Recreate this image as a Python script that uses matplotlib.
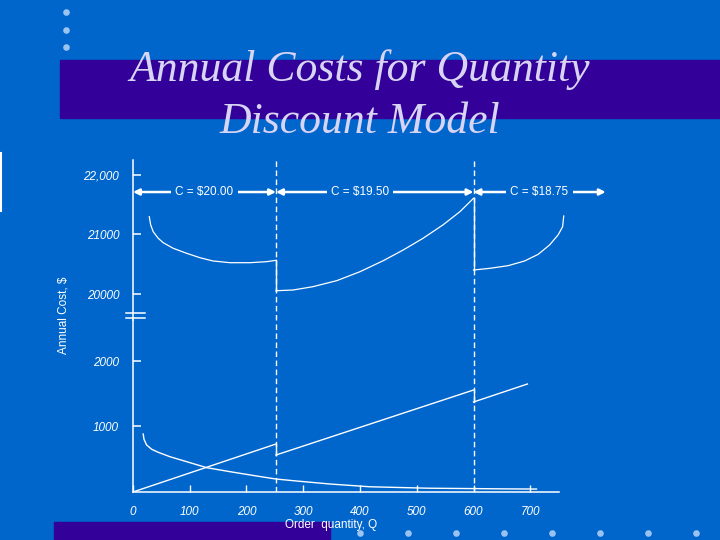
import numpy as np
import matplotlib.pyplot as plt
from matplotlib.patches import Rectangle

# colours of the slide
BG = "#0066cc"
BANNER = "#330099"
TITLE_COL = "#d8d4f4"
BULLET = "#9cc4f0"

# data
breaks = [252, 600]
x_ticks = [0, 100, 200, 300, 400, 500, 600, 700]
upper_ticks = [20000, 21000, 22000]
upper_labels = ["20000", "21000", "22,000"]
lower_ticks = [1000, 2000]
lower_labels = ["1000", "2000"]

# total cost curves (one per price)
q_c20 = [28.7, 31.2, 35.7, 44.5, 53.3, 70.9, 94.5, 118, 141, 171, 206, 235, 252]
tc_c20 = [21299, 21160, 21047, 20936, 20862, 20768, 20684, 20610, 20555, 20526,
          20526, 20543, 20566]
q_c1950 = [252, 282, 317, 359, 400, 441, 476, 511, 546, 576, 600]
tc_c1950 = [20055, 20067, 20123, 20224, 20375, 20560, 20739, 20936, 21160, 21383, 21608]
q_c1875 = [600, 629, 661, 690, 714, 734, 749, 757, 759]
tc_c1875 = [20403, 20432, 20476, 20555, 20667, 20824, 20992, 21131, 21311]

# ordering cost curve
q_order = [18, 19.4, 24, 33, 44.5, 65, 94.5, 130, 171, 218, 252, 288, 347, 417, 519, 651, 711]
order_cost = [885, 805, 718, 652, 606, 539, 463, 371, 310, 244, 198, 168, 122, 80, 58, 48, 45]

# holding cost lines (one per price)
q_hold = [[0, 252], [252, 600], [600, 695]]
hold_cost = [[0, 733], [565, 1557], [1374, 1649]]

price_labels = ["C = $20.00", "C = $19.50", "C = $18.75"]
price_ranges = [(0, 252), (252, 600), (600, 833)]
label_pos = [126, 400, 716]
arrow_level = 21714

fig = plt.figure(figsize=(7.2, 5.4), dpi=100, facecolor=BG)

# slide decoration
deco = fig.add_axes([0, 0, 1, 1])
deco.set_xlim(0, 720)
deco.set_ylim(540, 0)
deco.axis("off")
deco.add_patch(Rectangle((60, 60), 660, 58, color=BANNER))
deco.add_patch(Rectangle((54, 522), 276, 18, color=BANNER))
deco.plot([1, 1], [153, 211], color="white", lw=1.5)
deco.scatter([66, 66, 66], [12, 30, 47], s=14, color=BULLET)
deco.scatter(np.arange(360, 700, 48), [533] * 8, s=14, color=BULLET)
deco.text(360, 70, "Annual Costs for Quantity", ha="center", va="center",
          family="Liberation Serif", style="italic", fontsize=31.5, color=TITLE_COL)
deco.text(360, 122, "Discount Model", ha="center", va="center",
          family="Liberation Serif", style="italic", fontsize=31.5, color=TITLE_COL)
deco.text(331, 525, "Order  quantity, Q", ha="center", va="center",
          family="Liberation Sans", fontsize=8.5, color="white")
deco.text(63, 315, "Annual Cost, $", ha="center", va="center", rotation=90,
          family="Liberation Sans", fontsize=8.5, color="white")

ax_up = fig.add_axes([0.1847, 0.4074, 0.6306, 0.2963])
ax_lo = fig.add_axes([0.1847, 0.0889, 0.6306, 0.3185])

for ax in (ax_up, ax_lo):
    ax.set_facecolor("none")
    ax.set_xlim(0, 800)
    for s in ("top", "right"):
        ax.spines[s].set_visible(False)
    ax.spines["left"].set_color("white")
    ax.spines["left"].set_linewidth(1.1)
    ax.tick_params(axis="y", direction="in", length=6, width=1.1, colors="white",
                   labelsize=8.5, pad=10)
    for b in breaks:
        ax.axvline(b, color="white", lw=1, ls=(0, (4, 2.5)))

ax_up.set_ylim(19563, 22252)
ax_up.spines["bottom"].set_visible(False)
ax_up.set_xticks([])
ax_up.set_yticks(upper_ticks, upper_labels)

ax_lo.set_ylim(0, 2626)
ax_lo.spines["bottom"].set_color("white")
ax_lo.spines["bottom"].set_linewidth(1.1)
ax_lo.spines["bottom"].set_bounds(0, 750)
ax_lo.set_xticks(x_ticks, [str(t) for t in x_ticks])
ax_lo.tick_params(axis="x", direction="in", length=5, width=1, colors="white",
                  labelsize=8.5, pad=10)
ax_lo.set_yticks(lower_ticks, lower_labels)

for ax in (ax_up, ax_lo):
    for lab in ax.get_xticklabels() + ax.get_yticklabels():
        lab.set_fontstyle("italic")
        lab.set_family("Liberation Sans")

# axis break marks
for yb in (19681, 19597):
    ax_up.plot([-12, 22], [yb, yb], color="white", lw=1.1, clip_on=False)

# total cost curves with jumps at the price breaks
ax_up.plot(q_c20, tc_c20, color="white", lw=0.9)
ax_up.plot(q_c1950, tc_c1950, color="white", lw=0.9)
ax_up.plot(q_c1875, tc_c1875, color="white", lw=0.9, clip_on=False)
ax_up.plot([q_c20[-1], q_c1950[0]], [tc_c20[-1], tc_c1950[0]], color="white", lw=1)
ax_up.plot([q_c1950[-1], q_c1875[0]], [tc_c1950[-1], tc_c1875[0]], color="white", lw=1)

# price range arrows
for (a, b), lab, xm in zip(price_ranges, price_labels, label_pos):
    ax_up.annotate("", xy=(a, arrow_level), xytext=(b, arrow_level),
                   arrowprops=dict(arrowstyle="<|-|>", color="white", lw=1.8,
                                   mutation_scale=9, shrinkA=0, shrinkB=0),
                   annotation_clip=False)
    ax_up.text(xm, arrow_level, lab, ha="center", va="center", color="white",
               family="Liberation Sans", fontsize=8.5,
               bbox=dict(facecolor=BG, edgecolor="none", pad=3), clip_on=False)

# ordering and holding costs
ax_lo.plot(q_order, order_cost, color="white", lw=1)
for qs, hs in zip(q_hold, hold_cost):
    ax_lo.plot(qs, hs, color="white", lw=1)
ax_lo.plot([q_hold[0][1], q_hold[1][0]], [hold_cost[0][1], hold_cost[1][0]], color="white", lw=1)
ax_lo.plot([q_hold[1][1], q_hold[2][0]], [hold_cost[1][1], hold_cost[2][0]], color="white", lw=1)

fig.savefig("out.png", dpi=100, facecolor=BG)
